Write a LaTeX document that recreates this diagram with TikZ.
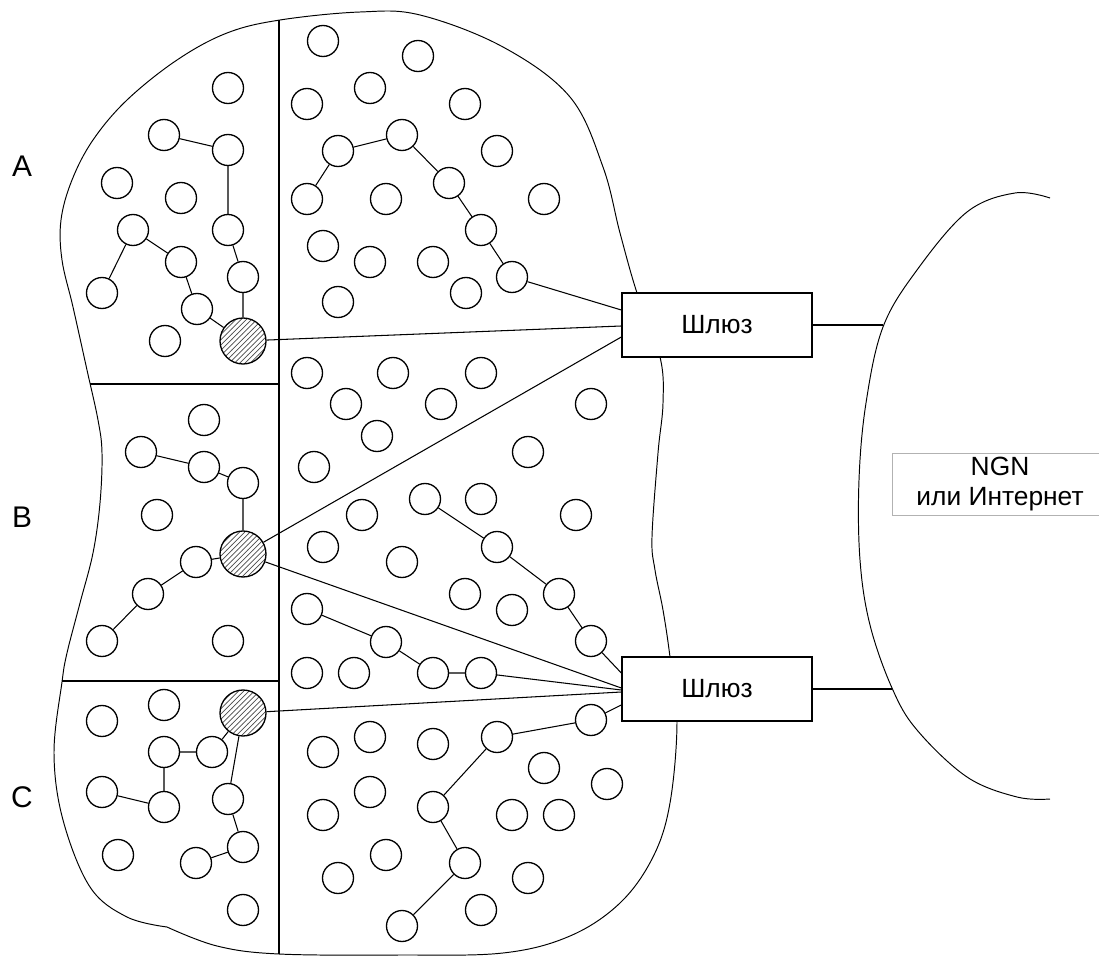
\documentclass[tikz,border=0pt]{standalone}
\usepackage{fontspec}
\setmainfont{Liberation Sans}
\usetikzlibrary{patterns,calc}
\begin{document}
\begin{tikzpicture}[x=0.02cm,y=-0.02cm,
  dev/.style={circle,draw,line width=0.75pt,fill=white,minimum size=0.62cm,inner sep=0pt},
  hub/.style={circle,draw,line width=0.75pt,preaction={fill=white},pattern=north east lines,pattern color=black!70,minimum size=0.92cm,inner sep=0pt},
  link/.style={line width=0.6pt},
  outline/.style={line width=0.55pt},
  divider/.style={line width=0.7pt},
  gw/.style={draw,line width=0.8pt,fill=white,minimum width=3.8cm,minimum height=1.28cm,inner sep=0pt,font=\fontsize{15}{18}\selectfont},
  zone/.style={font=\fontsize{17}{20}\selectfont,inner sep=0pt}]
\useasboundingbox (0,0) rectangle (1099,956);

% outer cloud of the access network
\draw[outline] plot[smooth,tension=0.6] coordinates {
 (167,927) (217,946) (279,954) (400,955) (503,953) (570,936) (620,903) (653,857)
 (670,803) (677,721) (670,657) (663,610) (655,570) (652,537) (658,453) (663,403)
 (660,357) (637,293) (620,233) (603,167) (570,97) (503,47) (420,15) (360,12)
 (280,20) (227,33) (177,60) (127,100) (93,140) (72,180) (61,220) (62,260)
 (73,307) (87,370) (98,420) (102,453) (100,503) (93,553) (80,603) (67,653)
 (62,682) (54,753) (63,820) (90,887) (127,917) (167,927)};

% NGN cloud
\draw[outline] plot[smooth,tension=0.6] coordinates {
 (1050,198) (1015,193) (967,212) (917,270) (883,327) (866,403) (859,480) (860,560)
 (870,625) (892,688) (917,730) (967,777) (1017,797) (1050,799)};
\coordinate (n1) at (883,325);
\coordinate (n2) at (892,689);

% zone dividers
\draw[divider] (279,20) -- (279,954);
\draw[divider] (90,384) -- (279,384);
\draw[divider] (62,681) -- (279,681);

% gateways
\node[gw] (g1) at (717,325) {Шлюз};
\node[gw] (g2) at (717,689) {Шлюз};

% NGN label
\node[draw=black!30,line width=0.4pt,minimum width=4.3cm,minimum height=1.24cm,align=center,
      font=\fontsize{15}{17.6}\selectfont,inner sep=0pt] (ngn) at (1000,484) {NGN\\или Интернет};

% zone labels
\node[zone] (lA) at (22,166) {A};
\node[zone] (lB) at (22,517) {B};
\node[zone] (lC) at (22,797) {C};

% hubs
\node[hub] (hA) at (243,341) {};
\node[hub] (hB) at (243,554) {};
\node[hub] (hC) at (243,713) {};

% chain nodes
\node[dev] (a2) at (164,135) {};
\node[dev] (a3) at (228,150) {};
\node[dev] (a7) at (228,230) {};
\node[dev] (a9) at (243,277) {};
\node[dev] (a6) at (133,230) {};
\node[dev] (a10) at (102,293) {};
\node[dev] (a8) at (181,262) {};
\node[dev] (a11) at (197,309) {};

\node[dev] (r9) at (307,199) {};
\node[dev] (r7) at (338,151) {};
\node[dev] (r6) at (402,135) {};
\node[dev] (r11) at (449,183) {};
\node[dev] (r13) at (481,230) {};
\node[dev] (r17) at (512,277) {};

\node[dev] (p1) at (425,499) {};
\node[dev] (p2) at (497,547) {};
\node[dev] (p3) at (559,594) {};
\node[dev] (p4) at (591,641) {};
\node[dev] (q1) at (307,609) {};
\node[dev] (q2) at (386,642) {};
\node[dev] (q3) at (433,673) {};
\node[dev] (q4) at (481,673) {};

\node[dev] (b2) at (141,452) {};
\node[dev] (b3) at (204,467) {};
\node[dev] (b4) at (243,483) {};
\node[dev] (b6) at (196,562) {};
\node[dev] (b7) at (148,594) {};
\node[dev] (b8) at (102,641) {};

\node[dev] (c4) at (212,752) {};
\node[dev] (c3) at (164,752) {};
\node[dev] (c6) at (164,807) {};
\node[dev] (c5) at (102,792) {};
\node[dev] (c7) at (228,799) {};
\node[dev] (c9) at (243,847) {};
\node[dev] (c10) at (196,863) {};

\node[dev] (s1) at (591,720) {};
\node[dev] (s2) at (497,737) {};
\node[dev] (s3) at (433,807) {};
\node[dev] (s4) at (465,863) {};
\node[dev] (s5) at (402,926) {};

% isolated terminals
\foreach \px/\py [count=\i] in {
 228/88, 117/183, 181/198, 165/341,
 323/41, 418/56, 370/88, 307/104, 465/104, 497/151, 386/199, 544/199,
 323/246, 370/262, 433/262, 466/293, 338/302,
 307/373, 393/373, 481/373, 346/404, 441/404, 377/436, 314/467, 591/404,
 528/452, 481/499, 362/515, 576/515, 323/547, 402/562, 465/594, 512/610,
 307/673, 354/673,
 204/420, 157/515, 228/641,
 102/721, 164/705, 118/855, 243/910,
 323/752, 370/737, 433/744, 544/768, 607/784, 370/792, 323/815, 512/815,
 559/815, 386/855, 338/878, 528/878, 481/910}
 \node[dev] (t\i) at (\px,\py) {};

% links
\draw[link] (a2) -- (a3) -- (a7) -- (a9) -- (hA);
\draw[link] (a10) -- (a6) -- (a8) -- (a11) -- (hA);
\draw[link] (r9) -- (r7) -- (r6) -- (r11) -- (r13) -- (r17);
\draw[link] (r17) -- ($(g1.west)+(0,-15)$);
\draw[link] (hA) -- ($(g1.west)+(0,1)$);
\draw[link] (hB) -- ($(g1.west)+(0,12)$);
\draw[link] (b2) -- (b3) -- (b4) -- (hB);
\draw[link] (hB) -- (b6) -- (b7) -- (b8);
\draw[link] (p1) -- (p2) -- (p3) -- (p4);
\draw[link] (p4) -- ($(g2.west)+(0,-16)$);
\draw[link] (hB) -- ($(g2.west)+(0,-1)$);
\draw[link] (q1) -- (q2) -- (q3) -- (q4);
\draw[link] (q4) -- ($(g2.west)+(0,1)$);
\draw[link] (hC) -- ($(g2.west)+(0,3)$);
\draw[link] (s1) -- ($(g2.west)+(0,16)$);
\draw[link] (s1) -- (s2) -- (s3) -- (s4) -- (s5);
\draw[link] (hC) -- (c4) -- (c3) -- (c6) -- (c5);
\draw[link] (hC) -- (c7) -- (c9) -- (c10);
\draw[link] (g1.east) -- (n1);
\draw[link] (g2.east) -- (n2);
\end{tikzpicture}
\end{document}
